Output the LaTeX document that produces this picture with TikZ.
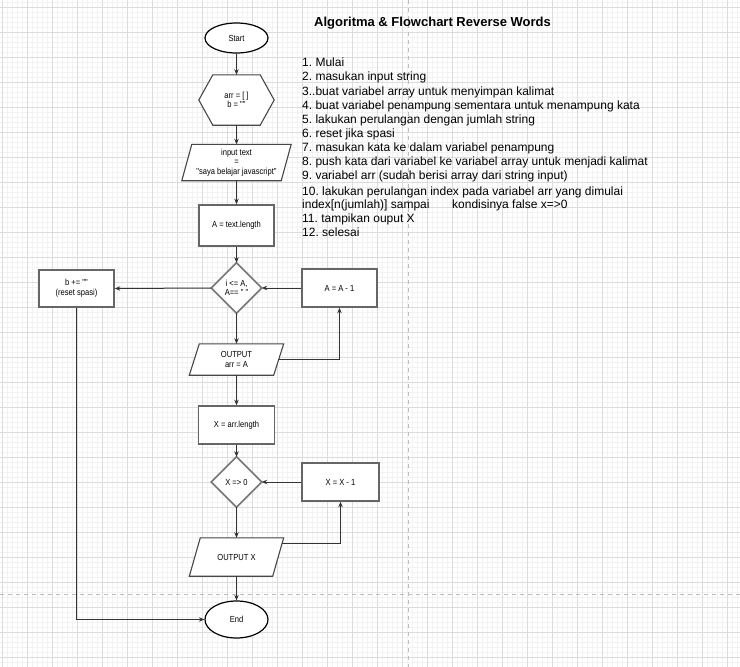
\documentclass[tikz,border=0pt]{standalone}
\usepackage{fontspec}
\setmainfont{Liberation Sans}
\newfontfamily\nfont[FakeStretch=0.86]{Liberation Sans}
\usetikzlibrary{shapes.geometric,arrows.meta,calc}
\pgfdeclarelayer{gridlayer}
\pgfdeclarelayer{shapelayer}
\pgfsetlayers{gridlayer,shapelayer,main}
\definecolor{minorc}{HTML}{F2F2F2}
\definecolor{majorc}{HTML}{DCDCDC}
\definecolor{dashc}{HTML}{BDBDBD}
\definecolor{connc}{HTML}{333333}
\definecolor{shapec}{HTML}{666666}
\frenchspacing
\begin{document}
\begin{tikzpicture}[x=1pt,y=-1pt,
  minorgrid/.style={draw=minorc, line width=0.8pt},
  majorgrid/.style={draw=majorc, line width=1pt},
  dashline/.style={draw=dashc, line width=1pt, dash pattern=on 4pt off 4pt},
  conn/.style={draw=connc, line width=1pt, -{Stealth[length=5.5pt,width=4.5pt]}},
  txt/.style={font=\nfont\fontsize{8.8}{9.6}\selectfont, align=center, text=black},
  term/.style={txt, ellipse, draw=black, line width=1.2pt, fill=white, inner sep=0pt, minimum width=63pt},
  blk/.style={txt, draw=none, inner sep=0pt},
  proc/.style={txt, rectangle, draw=shapec, line width=1.6pt, fill=white, inner sep=0pt},
  pshape/.style={draw=connc!90, line width=1.1pt, fill=white},
  dshape/.style={draw=shapec!90, line width=1.5pt, fill=white},
  listtxt/.style={anchor=base west, inner sep=0pt, font=\fontsize{12}{14}\selectfont, text=black}
]
\useasboundingbox (0,0) rectangle (740,667);
\begin{pgfonlayer}{gridlayer}
\fill[white] (0,0) rectangle (740,667);
\foreach \i in {2,7,...,737} \draw[minorgrid] (\i,0) -- (\i,667);
\foreach \j in {2,7,...,662} \draw[minorgrid] (0,\j) -- (740,\j);
\foreach \i in {2,27,...,727} \draw[majorgrid] (\i,0) -- (\i,667);
\foreach \j in {7,32,...,657} \draw[majorgrid] (0,\j) -- (740,\j);
\draw[dashline] (408,0) -- (408,667);
\draw[dashline] (0,594) -- (740,594);
\end{pgfonlayer}

% title and list
\node[anchor=base west, inner sep=0pt, font=\bfseries\fontsize{13}{15}\selectfont] (title) at (314,26) {Algoritma \& Flowchart Reverse Words};
\node[listtxt] (l1) at (302,66) {1. Mulai};
\node[listtxt] (l2) at (302,80.5) {2. masukan input string};
\node[listtxt] (l3) at (302,95) {3..buat variabel array untuk menyimpan kalimat};
\node[listtxt] (l4) at (302,109.3) {4. buat variabel penampung sementara untuk menampung kata};
\node[listtxt] (l5) at (302,123.6) {5. lakukan perulangan dengan jumlah string};
\node[listtxt] (l6) at (302,137.5) {6. reset jika spasi};
\node[listtxt] (l7) at (302,151) {7. masukan kata ke dalam variabel penampung};
\node[listtxt] (l8) at (302,165) {8. push kata dari variabel ke variabel array untuk menjadi kalimat};
\node[listtxt] (l9) at (302,179) {9. variabel arr (sudah berisi array dari string input)};
\node[listtxt] (l10) at (302,195) {10. lakukan perulangan index pada variabel arr yang dimulai};
\node[listtxt] (l11a) at (302,208) {index[n(jumlah)] sampai};
\node[listtxt] (l11b) at (452,208) {kondisinya false x=>0};
\node[listtxt] (l12) at (302,222.5) {11. tampikan ouput X};
\node[listtxt] (l13) at (302,236) {12. selesai};

% flowchart nodes
\node[term, minimum height=30pt] (start) at (236.5,38) {Start};
\node[blk, minimum width=75pt, minimum height=50pt] (init) at (236.5,100) {arr = [ ]\\b = ""};
\node[blk, minimum width=109pt, minimum height=36pt] (inp) at (236.5,162.5) {input text\\=\\"saya belajar javascript"};
\node[proc, minimum width=75pt, minimum height=41pt] (len) at (236.5,225.5) {A = text.length};
\node[blk, minimum width=50pt, minimum height=50pt] (d1) at (236.5,288) {i <= A,\\A== " "};
\node[proc, minimum width=75pt, minimum height=37pt] (reset) at (76.5,288.5) {b += ""\\(reset spasi)};
\node[proc, minimum width=75pt, minimum height=38pt] (am1) at (339.5,288) {A = A - 1};
\node[blk, minimum width=94pt, minimum height=31pt] (out1) at (236.5,359.5) {OUTPUT\\arr = A};
\node[proc, minimum width=76pt, minimum height=38pt] (xlen) at (236.5,425) {X = arr.length};
\node[blk, minimum width=50pt, minimum height=50pt] (d2) at (236.5,482) {X => 0};
\node[proc, minimum width=77pt, minimum height=38pt] (xm1) at (340.5,482) {X = X - 1};
\node[blk, minimum width=94pt, minimum height=38pt] (outx) at (236.5,557) {OUTPUT X};
\node[term, minimum height=37pt] (end) at (236.5,619.5) {End};

% custom shapes
\begin{pgfonlayer}{shapelayer}
\draw[pshape] ([xshift=14pt]init.north west) -- ([xshift=-14pt]init.north east) -- (init.east) -- ([xshift=-14pt]init.south east) -- ([xshift=14pt]init.south west) -- (init.west) -- cycle;
\draw[pshape] ([xshift=10pt]inp.north west) -- (inp.north east) -- ([xshift=-10pt]inp.south east) -- (inp.south west) -- cycle;
\draw[pshape] ([xshift=10pt]out1.north west) -- (out1.north east) -- ([xshift=-10pt]out1.south east) -- (out1.south west) -- cycle;
\draw[pshape] ([xshift=11pt]outx.north west) -- (outx.north east) -- ([xshift=-11pt]outx.south east) -- (outx.south west) -- cycle;
\draw[dshape] (d1.north) -- (d1.east) -- (d1.south) -- (d1.west) -- cycle;
\draw[dshape] (d2.north) -- (d2.east) -- (d2.south) -- (d2.west) -- cycle;
\end{pgfonlayer}

\coordinate (o1r) at ($(out1.east)+(-5,0)$);
\coordinate (oxr) at ($(outx.north east)+(-1.7,6)$);

% connectors
\draw[conn] (start) -- (init);
\draw[conn] (init) -- (inp);
\draw[conn] (inp) -- (len);
\draw[conn] (len) -- (d1.north);
\draw[conn] (d1.west) -- (reset.east);
\draw[conn] (reset.south) |- (end.west);
\draw[conn] (am1.west) -- (d1.east);
\draw[conn] (o1r) -| (am1.south);
\draw[conn] (d1.south) -- (out1.north);
\draw[conn] (out1.south) -- (xlen.north);
\draw[conn] (xlen.south) -- (d2.north);
\draw[conn] (xm1.west) -- (d2.east);
\draw[conn] (oxr) -| (xm1.south);
\draw[conn] (d2.south) -- (outx.north);
\draw[conn] (outx.south) -- (end.north);
\end{tikzpicture}
\end{document}
